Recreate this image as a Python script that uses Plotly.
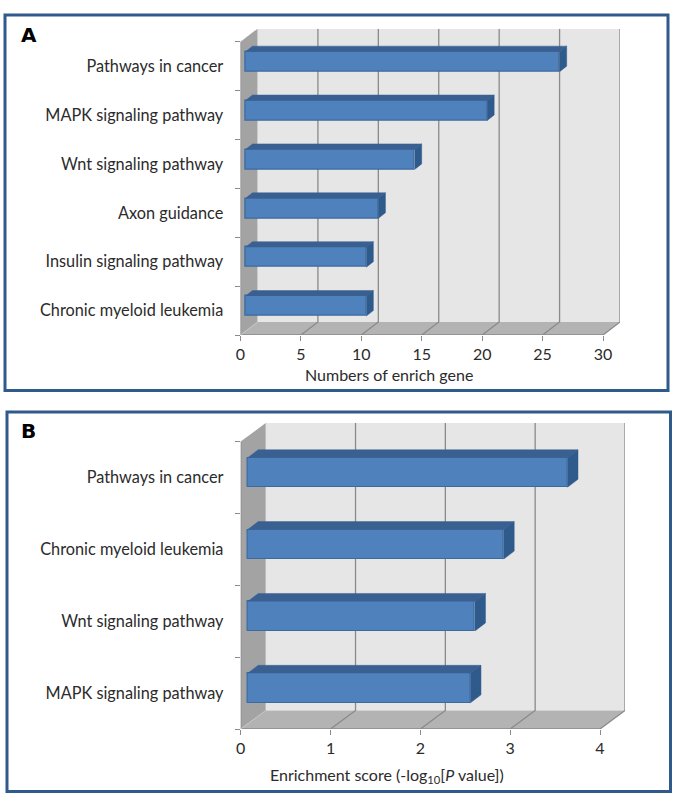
import plotly.graph_objects as go

W, H = 676, 798

# ---- data ----
cats_a = ["Pathways in cancer", "MAPK signaling pathway", "Wnt signaling pathway",
          "Axon guidance", "Insulin signaling pathway", "Chronic myeloid leukemia"]
vals_a = [26, 20, 14, 11, 10, 10]
ticks_a = [0, 5, 10, 15, 20, 25, 30]
title_a = "Numbers of enrich gene"

cats_b = ["Pathways in cancer", "Chronic myeloid leukemia", "Wnt signaling pathway",
          "MAPK signaling pathway"]
vals_b = [3.56, 2.85, 2.53, 2.48]
ticks_b = [0, 1, 2, 3, 4]
title_b = "Enrichment score (-log<sub>10</sub>[<i>P</i> value])"

FONT = "Lato"
TXT = "#2b2b2b"
WALL, FLOOR, BACK = "#a3a3a3", "#b3b3b3", "#e6e6e6"
GRID = "#8a8a8a"
FRONT, TOP, SIDE, EDGE = "#4f81bd", "#3a6092", "#2f5a8c", "#3b6a9f"
FRAME = "#30598c"

# panel geometry in pixels
A = dict(cats=cats_a, vals=vals_a, ticks=ticks_a, x0=240.5, x1=603.0, ytop=41.7, ybot=335.0,
         dx=17.0, dy=13.0, bh=20.0, bshift=4.5, bx=5.0, bdx=7.0, bdy=5.5,
         title=title_a, title_x=389, title_y=374, frame=(5, 15, 668, 390.5),
         letter="A", lx=29, ly=35, ax="", ay="")
B = dict(cats=cats_b, vals=vals_b, ticks=ticks_b, x0=240.7, x1=600.0, ytop=441.6, ybot=729.0,
         dx=25.0, dy=18.5, bh=29.5, bshift=5.0, bx=7.0, bdx=10.5, bdy=8.0,
         title=title_b, title_x=387, title_y=775, frame=(7, 412, 670.5, 791.5),
         letter="B", lx=29, ly=431, ax="2", ay="2")

fig = go.Figure()
shapes, annos, layout = [], [], {}

for P in (A, B):
    n = len(P["cats"])
    xmax = P["ticks"][-1]
    ux = (P["x1"] - P["x0"]) / xmax          # px per value
    uy = (P["ybot"] - P["ytop"]) / n         # px per slot
    ddx, ddy = P["dx"] / ux, P["dy"] / uy    # wall depth in data units
    xa, ya = "x" + P["ax"], "y" + P["ay"]
    pos = [n - 1 - i for i in range(n)]
    ylo, yhi = -0.5, n - 0.5

    def sh(path, fill=None, line=None, lw=1.0):
        shapes.append(dict(type="path", path=path, xref=xa, yref=ya, layer="below",
                           fillcolor=fill or "rgba(0,0,0,0)",
                           line=dict(color=line or "rgba(0,0,0,0)", width=lw if line else 0)))

    # back wall, side wall, floor
    sh(f"M{ddx},{ylo+ddy} L{xmax+ddx},{ylo+ddy} L{xmax+ddx},{yhi+ddy} L{ddx},{yhi+ddy} Z", BACK)
    sh(f"M0,{ylo} L{ddx},{ylo+ddy} L{ddx},{yhi+ddy} L0,{yhi} Z", WALL)
    sh(f"M0,{ylo} L{xmax},{ylo} L{xmax+ddx},{ylo+ddy} L{ddx},{ylo+ddy} Z", FLOOR)
    # gridlines on the back wall and floor
    for t in P["ticks"][1:]:
        sh(f"M{t},{ylo} L{t+ddx},{ylo+ddy} L{t+ddx},{yhi+ddy}", None, GRID, 1.3)
    sh(f"M0,{yhi} L0,{ylo} L{xmax},{ylo}", None, GRID, 1.3)
    sh(f"M0,{ylo} L{ddx},{ylo+ddy}", None, "#c4c4c4", 1)

    # bars
    bx, bdx = P["bx"] / ux, P["bdx"] / ux
    bdy = P["bdy"] / uy
    half, shift = P["bh"] / 2 / uy, P["bshift"] / uy
    fig.add_trace(go.Bar(x=P["vals"], y=pos, base=bx, orientation="h", width=2 * half,
                         offset=shift - half, marker=dict(color=FRONT, line=dict(color=EDGE, width=1.2)),
                         xaxis=xa, yaxis=ya, showlegend=False))
    tx, ty, sx, sy = [], [], [], []
    for v, p in zip(P["vals"], pos):
        lo, hi = p + shift - half, p + shift + half
        r = bx + v
        tx += [bx, bx + bdx, r + bdx, r, None]
        ty += [hi, hi + bdy, hi + bdy, hi, None]
        sx += [r, r + bdx, r + bdx, r, None]
        sy += [hi, hi + bdy, lo + bdy, lo, None]
    for xs, ys, c in ((tx, ty, TOP), (sx, sy, SIDE)):
        fig.add_trace(go.Scatter(x=xs, y=ys, mode="lines", fill="toself", fillcolor=c,
                                 line=dict(width=0.5, color=c), xaxis=xa, yaxis=ya,
                                 showlegend=False, hoverinfo="skip"))

    # axes
    key = "axis" + P["ax"]
    layout["x" + key] = dict(domain=[P["x0"] / W, (P["x1"] + P["dx"]) / W], range=[0, xmax + ddx],
                             tickmode="array", tickvals=P["ticks"], ticks="outside", ticklen=5,
                             tickcolor=GRID, tickwidth=1.3, showgrid=False, zeroline=False,
                             showline=False, anchor=ya,
                             tickfont=dict(family=FONT, size=16, color=TXT))
    key = "axis" + P["ay"]
    layout["y" + key] = dict(domain=[1 - P["ybot"] / H, 1 - (P["ytop"] - P["dy"]) / H],
                             range=[ylo, yhi + ddy], tickmode="array", tickvals=pos,
                             ticktext=P["cats"], ticks="outside", ticklen=13,
                             tickcolor="rgba(0,0,0,0)", showgrid=False, zeroline=False,
                             showline=False, anchor=xa,
                             minor=dict(ticks="outside", ticklen=5, tickcolor=GRID, tickwidth=1.3,
                                        tick0=0.5, dtick=1, showgrid=False),
                             tickfont=dict(family=FONT, size=16.3, color=TXT))

    # frame, letter, axis title
    l, t, r_, b = P["frame"]
    shapes.append(dict(type="rect", xref="paper", yref="paper", x0=l / W, x1=r_ / W,
                       y0=1 - b / H, y1=1 - t / H, line=dict(color=FRAME, width=3),
                       fillcolor="rgba(0,0,0,0)", layer="above"))
    annos.append(dict(text=f"<b>{P['letter']}</b>", xref="paper", yref="paper", x=P["lx"] / W,
                      y=1 - P["ly"] / H, showarrow=False, yanchor="middle", xanchor="center",
                      font=dict(family="DejaVu Sans", size=20, color="black")))
    annos.append(dict(text=P["title"], xref="paper", yref="paper", x=P["title_x"] / W,
                      y=1 - P["title_y"] / H, showarrow=False, yanchor="middle", xanchor="center",
                      font=dict(family=FONT, size=16, color=TXT)))

fig.update_layout(width=W, height=H, margin=dict(l=0, r=0, t=0, b=0, autoexpand=False),
                  paper_bgcolor="white", plot_bgcolor="white", shapes=shapes, annotations=annos,
                  bargap=0, showlegend=False, **layout)
fig.write_html("out.html", config={"displayModeBar": False},
               post_script="document.body.style.margin='0';")
